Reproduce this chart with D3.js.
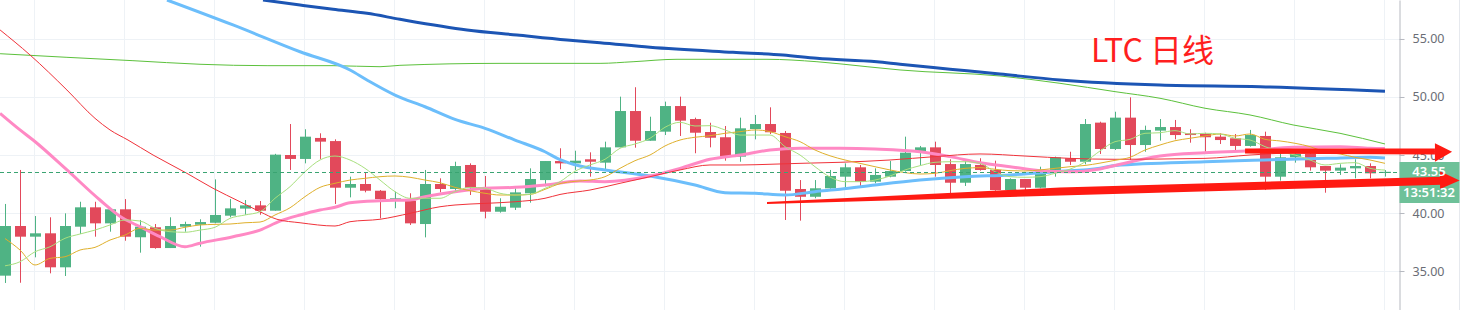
<!DOCTYPE html>
<html>
<head>
<meta charset="utf-8">
<script src="https://cdn.jsdelivr.net/npm/d3@7"></script>
<style>
  html, body { margin: 0; padding: 0; background: #fff; }
  svg { display: block; }
</style>
</head>
<body>
<div class="chart"></div>
<script>
var width = 1466;
var height = 310;
var axisX = 1399.5;

// daily candles, [open, high, low, close]
var ohlc = [
  [34.6, 40.78, 33.97, 38.88], [38.88, 43.71, 33.99, 37.96], [37.96, 39.74, 36.18, 38.25],
  [38.25, 39.63, 34.8, 35.32], [35.32, 39.97, 34.57, 38.88], [38.82, 40.97, 38.19, 40.49],
  [40.49, 40.97, 37.96, 39.11], [39.11, 40.32, 38.39, 40.32], [40.32, 41.2, 37.61, 37.96],
  [37.91, 39.4, 36.58, 38.82], [38.77, 39.05, 36.92, 36.98], [36.98, 39.63, 36.98, 38.88],
  [38.82, 39.25, 38.39, 39.05], [38.99, 39.46, 37.1, 39.22], [39.16, 42.9, 39.11, 39.83],
  [39.77, 41.2, 39.63, 40.4], [40.38, 41.12, 39.85, 40.66], [40.66, 41.03, 39.85, 40.2],
  [40.2, 45.1, 40.2, 45.03], [45.0, 47.67, 43.71, 44.66], [44.66, 47.22, 44.28, 46.58],
  [46.47, 46.87, 44.66, 46.15], [46.2, 46.35, 40.78, 42.18], [42.18, 43.13, 41.35, 42.5],
  [42.5, 43.53, 41.78, 41.92], [41.92, 41.98, 39.54, 41.2], [41.22, 41.84, 40.41, 41.27],
  [41.06, 41.7, 38.97, 39.11], [39.05, 43.71, 37.9, 42.5], [42.5, 42.99, 41.78, 42.07],
  [42.07, 44.42, 41.78, 44.05], [44.14, 44.28, 41.55, 42.18], [42.13, 43.19, 39.54, 40.11],
  [40.11, 41.27, 40.03, 40.54], [40.46, 42.13, 40.26, 41.78], [41.7, 43.85, 40.89, 42.93],
  [42.84, 44.48, 42.3, 44.48], [44.48, 45.58, 43.77, 44.28], [44.28, 45.37, 43.71, 44.51],
  [44.63, 45.23, 43.13, 44.42], [44.34, 46.15, 43.77, 45.66], [45.66, 50.03, 45.66, 48.79],
  [48.79, 50.84, 45.63, 46.23], [46.23, 48.3, 46.23, 47.07], [47.01, 49.6, 46.72, 49.22],
  [49.22, 50.03, 46.64, 47.96], [48.1, 48.22, 45.15, 46.92], [46.98, 47.78, 45.66, 46.49],
  [46.53, 47.5, 44.51, 44.86], [44.86, 48.22, 44.42, 47.3], [47.24, 48.45, 46.35, 47.67],
  [47.67, 49.11, 46.81, 46.96], [46.9, 47.07, 39.4, 41.92], [42.07, 42.84, 39.34, 41.4],
  [41.4, 42.84, 41.27, 42.13], [42.13, 43.71, 42.1, 43.19], [43.13, 44.28, 42.21, 43.94],
  [43.94, 44.14, 42.33, 42.7], [42.7, 43.85, 42.56, 43.28], [43.13, 44.48, 43.08, 43.62],
  [43.62, 46.58, 43.56, 45.2], [45.28, 45.78, 44.14, 45.66], [45.66, 46.15, 43.13, 44.14],
  [44.22, 44.63, 41.55, 42.61], [42.61, 44.48, 42.33, 44.22], [44.14, 44.72, 43.65, 43.71],
  [43.71, 44.51, 41.92, 41.98], [41.98, 42.99, 41.75, 42.93], [42.93, 42.93, 41.75, 42.18],
  [42.18, 43.99, 42.13, 43.56], [43.71, 44.86, 43.13, 44.8], [44.72, 45.28, 44.14, 44.42],
  [44.42, 48.1, 44.2, 47.67], [47.79, 47.87, 45.09, 45.52], [45.52, 48.73, 45.43, 48.22],
  [48.22, 49.97, 44.57, 45.86], [45.86, 47.53, 45.28, 47.16], [47.1, 48.1, 46.24, 47.41],
  [47.41, 48.02, 46.35, 46.72], [46.87, 47.22, 46.06, 46.72], [46.81, 46.92, 45.28, 46.53],
  [46.58, 46.87, 45.95, 46.29], [46.44, 46.81, 45.37, 45.78], [45.78, 47.16, 45.72, 46.72],
  [46.64, 47.01, 41.98, 43.13], [43.13, 45.28, 42.79, 44.8], [44.8, 45.2, 44.34, 45.09],
  [45.09, 45.2, 43.65, 43.94], [44.05, 44.05, 41.75, 43.65], [43.65, 44.2, 43.28, 43.91],
  [43.85, 44.63, 42.99, 44.05], [44.05, 44.28, 42.99, 43.42], [43.45, 43.7, 43.14, 43.55]
];

// short averages, one value per candle
var ma5 = [
  35.45, 35.8, 36.66, 37.09, 37.82, 38.19, 38.53, 38.97, 39.4, 39.31,
  38.68, 38.39, 38.34, 38.53, 38.77, 39.54, 39.83, 40.11, 41.27, 42.27,
  43.56, 44.57, 44.91, 44.57, 43.85, 42.84, 41.84, 41.27, 41.27, 41.27,
  41.84, 42.21, 42.13, 41.7, 41.55, 41.61, 42.13, 42.7, 43.6, 44.14,
  44.63, 45.58, 45.95, 46.44, 47.39, 47.82, 47.5, 47.53, 47.16, 46.72,
  46.72, 46.72, 45.72, 45.0, 43.99, 43.1, 42.7, 42.7, 42.84, 43.19,
  43.71, 44.08, 44.37, 44.42, 44.42, 44.28, 43.56, 43.13, 43.08, 43.13,
  43.42, 43.78, 44.4, 45.35, 46.15, 46.35, 46.87, 46.92, 47.1, 46.81,
  46.87, 46.81, 46.44, 46.29, 45.72, 45.28, 45.0, 44.57, 44.14, 44.28,
  44.34, 43.85, 43.7
];
var ma10 = [
  37.8, 36.81, 35.52, 36.09, 36.23, 36.81, 37.04, 37.67, 38.1, 38.68,
  38.53, 38.53, 38.77, 38.97, 39.02, 39.05, 39.16, 39.22, 39.83, 40.45,
  41.41, 42.21, 42.56, 42.84, 42.99, 43.13, 43.19, 43.08, 42.84, 42.61,
  42.21, 41.92, 41.7, 41.55, 41.55, 41.6, 42.04, 42.53, 42.73, 42.84,
  43.13, 43.85, 44.51, 45.0, 45.78, 46.29, 46.53, 46.66, 46.87, 47.01,
  47.16, 47.01, 46.58, 46.15, 45.43, 44.93, 44.57, 44.28, 43.99, 43.71,
  43.48, 43.36, 43.42, 43.65, 43.85, 43.91, 43.77, 43.65, 43.62, 43.71,
  43.85, 43.99, 44.1, 44.3, 44.54, 44.8, 45.43, 45.86, 46.23, 46.44,
  46.64, 46.81, 46.64, 46.81, 46.35, 46.21, 46.01, 45.72, 45.28, 45.09,
  44.8, 44.57, 44.28
];

// longer averages, read as [candle index, price]
var ma30 = [
  [-0.33, 55.78], [1.67, 53.62], [4.13, 50.6], [6, 48.16], [7, 47.16], [8.2, 46.29],
  [9.87, 45.0], [12.13, 43.42], [13.87, 42.13], [15.67, 40.97], [17, 40.11], [18.13, 39.46],
  [19.67, 39.16], [22, 38.88], [23, 39.25], [25, 39.46], [27, 39.97], [29, 40.54],
  [30, 40.69], [32, 40.83], [34, 40.97], [36, 41.27], [37, 41.6], [39, 41.98],
  [41, 42.56], [43, 43.13], [45, 43.71], [47, 44.14], [49, 44.14], [51, 44.2],
  [53, 44.28], [55.67, 44.37], [59, 44.57], [62, 44.86], [65, 45.09], [68, 44.91],
  [71, 44.71], [74, 44.63], [80, 44.71], [83, 45.0], [85.87, 45.2], [91, 45.37], [92, 45.3]
];
var ma60 = [
  [-0.33, 48.59], [1, 47.16], [1.87, 46.29], [4.13, 43.71], [6.33, 41.12], [7.87, 39.54],
  [9, 38.82], [10.33, 37.96], [12, 37.09], [13, 37.4], [15.2, 37.96], [17, 38.53],
  [18.33, 39.3], [19.67, 39.83], [21, 40.26], [22, 40.49], [23, 40.89], [25, 41.06],
  [27, 41.12], [28, 41.41], [30, 41.84], [32, 42.13], [34, 42.21], [36, 42.41],
  [38.33, 42.76], [40, 42.7], [43, 43.19], [45, 43.85], [47, 44.63], [49, 45.0],
  [51, 45.43], [53, 45.58], [55.67, 45.58], [58, 45.52], [61, 45.28], [63, 44.86],
  [65, 44.34], [67, 43.99], [69, 43.65], [71, 43.55], [73, 43.8], [74, 44.1],
  [77, 44.91], [80, 45.2], [83, 45.37], [85.87, 45.66], [89, 45.72], [91, 45.58], [92, 45.55]
];
var ma90 = [
  [10.8, 58.36], [15.2, 56.21], [19.67, 53.9], [23, 52.33], [24.13, 51.47], [26, 50.17],
  [28, 49.16], [30, 48.07], [32, 47.3], [34, 46.29], [36, 45.28], [37, 44.6],
  [38.33, 44.05], [40, 43.71], [43, 43.19], [46, 42.41], [48, 41.75], [50, 41.7],
  [52, 41.55], [54, 41.84], [55.67, 42.04], [58, 42.41], [61, 42.84], [64, 43.13],
  [67, 43.28], [70, 43.56], [73, 43.85], [74, 44.1], [80, 44.42], [84, 44.57],
  [88.13, 44.71], [91, 44.8], [92, 44.75]
];
var ma120 = [
  [-0.33, 53.73], [4.13, 53.42], [8.53, 53.13], [13, 52.82], [17.47, 52.7], [21.87, 52.7],
  [25, 52.61], [26.33, 52.73], [33, 52.9], [39.67, 52.9], [41.87, 53.04], [44.8, 53.25],
  [50.8, 53.25], [54.13, 53.04], [57.47, 52.61], [59.67, 52.33], [66.33, 51.81], [70.33, 51.18],
  [74, 50.46], [77, 49.89], [80, 49.03], [83, 48.45], [85.87, 47.59], [89, 46.87], [92, 45.95]
];
var ma200 = [
  [17.2, 58.36], [19.67, 57.93], [21.87, 57.56], [24.13, 57.21], [26.33, 56.7], [30.8, 55.78],
  [34.13, 55.34], [37.47, 54.91], [39.67, 54.68], [43, 54.28], [48.53, 53.85], [51.87, 53.62],
  [54.13, 53.33], [58.13, 53.04], [59.67, 52.82], [63, 52.4], [66.33, 51.98], [70.33, 51.47],
  [77, 51.03], [83.67, 50.89], [92, 50.5]
];

var priceTicks = [35, 40, 45, 50, 55];
var lastPrice = 43.55;
var countdown = "13:51:32";
var title = "LTC 日线";

// hand-drawn arrows, [candle index, price]
var upperArrow = [[82.67, 45.34], [95.33, 45.3]];
var upperHead = [[95.33, 46.01], [96.47, 45.28], [95.33, 44.42]];
var lowerArrow = [[50.8, 40.86], [70.33, 41.85], [95.8, 42.78]];
var lowerHead = [[95.67, 43.6], [96.97, 42.8], [95.67, 42.07]];

var upColor = "#4fb384";
var downColor = "#e2495b";

var svg = d3
  .select(".chart")
  .append("svg")
  .attr("width", width)
  .attr("height", height);

var x = d3.scaleLinear().domain([0, ohlc.length - 1]).range([5, 1385]);
var y = d3.scaleLinear().domain([31.64, 58.36]).range([height, 0]);

// grid
var gridX = d3.range(2, 100, 6).filter(d => x(d) < axisX);
svg
  .append("g")
  .selectAll("line")
  .data(gridX)
  .enter()
  .append("line")
  .attr("x1", d => Math.round(x(d)) - 0.5)
  .attr("x2", d => Math.round(x(d)) - 0.5)
  .attr("y1", 0)
  .attr("y2", height)
  .attr("stroke", "#eef2f6");

svg
  .append("g")
  .selectAll("line")
  .data(priceTicks)
  .enter()
  .append("line")
  .attr("x1", 0)
  .attr("x2", axisX)
  .attr("y1", d => Math.round(y(d)) + 0.5)
  .attr("y2", d => Math.round(y(d)) + 0.5)
  .attr("stroke", "#eef2f6");

svg
  .append("line")
  .attr("x1", 1459.5)
  .attr("x2", 1459.5)
  .attr("y1", 0)
  .attr("y2", height)
  .attr("stroke", "#e6e9ee");

// candles
var candles = svg
  .append("g")
  .selectAll("g")
  .data(ohlc)
  .enter()
  .append("g");

candles
  .append("line")
  .attr("x1", (d, i) => Math.round(x(i)) + 0.5)
  .attr("x2", (d, i) => Math.round(x(i)) + 0.5)
  .attr("y1", d => y(d[1]))
  .attr("y2", d => y(d[2]))
  .attr("stroke", d => (d[3] >= d[0] ? upColor : downColor))
  .attr("stroke-width", 1);

candles
  .append("rect")
  .attr("x", (d, i) => Math.round(x(i)) - 5)
  .attr("width", 11)
  .attr("y", d => y(Math.max(d[0], d[3])))
  .attr("height", d => Math.max(1, Math.abs(y(d[0]) - y(d[3]))))
  .attr("fill", d => (d[3] >= d[0] ? upColor : downColor));

// moving averages
var line = d3
  .line()
  .x(d => x(d[0]))
  .y(d => y(d[1]))
  .curve(d3.curveMonotoneX);

function drawLine(points, color, w) {
  svg
    .append("path")
    .datum(points)
    .attr("d", line)
    .attr("fill", "none")
    .attr("stroke", color)
    .attr("stroke-width", w)
    .attr("stroke-linejoin", "round");
}

drawLine(ma120, "#5cc13c", 1);
drawLine(ma200, "#1c55b4", 3);
drawLine(ma90, "#6cbefb", 3);
drawLine(ma60, "#ff89c4", 3);
drawLine(ma30, "#f0323a", 1);
drawLine(ma10.map((v, i) => [i, v]), "#dfb02c", 1);
drawLine(ma5.map((v, i) => [i, v]), "#a8e07e", 1);

// last price line
svg
  .append("line")
  .attr("x1", 0)
  .attr("x2", axisX)
  .attr("y1", Math.round(y(lastPrice)) + 0.5)
  .attr("y2", Math.round(y(lastPrice)) + 0.5)
  .attr("stroke", "#3aa472")
  .attr("stroke-dasharray", "4,3");

// price axis
var yAxis = d3
  .axisRight(y)
  .tickValues(priceTicks)
  .tickFormat(d3.format(".2f"))
  .tickSize(5)
  .tickSizeOuter(0)
  .tickPadding(8);

var axisG = svg
  .append("g")
  .attr("transform", `translate(${axisX}, 0)`)
  .call(yAxis);

axisG.select(".domain").attr("stroke", "#b6b9c0");
axisG.selectAll(".tick line").attr("stroke", "#b6b9c0");
axisG
  .selectAll(".tick text")
  .attr("fill", "#6a6d75")
  .style("font-family", "'Noto Sans', sans-serif")
  .style("font-size", "12.5px");

// last price tag
var tag = svg.append("g");
tag
  .append("rect")
  .attr("x", axisX)
  .attr("y", 162)
  .attr("width", 1459.5 - axisX)
  .attr("height", 41)
  .attr("fill", "#6ec199");

// annotation arrows
function band(points, w0, w1) {
  var pts = points.map(p => [x(p[0]), y(p[1])]);
  var n = pts.length;
  var top = [];
  var bottom = [];
  pts.forEach((p, k) => {
    var w = (w0 + (w1 - w0) * Math.min(1, k / Math.max(1, n - 2))) / 2;
    top.push([p[0], p[1] - w]);
    bottom.unshift([p[0], p[1] + w]);
  });
  return top.concat(bottom);
}

var polyLine = d3.line().curve(d3.curveLinearClosed);

svg
  .append("path")
  .attr("d", polyLine(band(upperArrow, 5, 6)))
  .attr("fill", "#ff1a12");
svg
  .append("path")
  .attr("d", polyLine(upperHead.map(p => [x(p[0]), y(p[1])])))
  .attr("fill", "#ff1a12");
svg
  .append("path")
  .attr("d", polyLine(band(lowerArrow, 2, 8)))
  .attr("fill", "#ff1a12");
svg
  .append("path")
  .attr("d", polyLine(lowerHead.map(p => [x(p[0]), y(p[1])])))
  .attr("fill", "#ff1a12");

// tag text stays readable above the arrows
tag
  .append("text")
  .attr("x", 1429)
  .attr("y", y(lastPrice) + 4)
  .attr("text-anchor", "middle")
  .attr("fill", "#fff")
  .style("font-family", "'Noto Sans', sans-serif")
  .style("font-size", "13px")
  .style("font-weight", 600)
  .text(d3.format(".2f")(lastPrice));
tag
  .append("text")
  .attr("x", 1429)
  .attr("y", y(lastPrice) + 25)
  .attr("text-anchor", "middle")
  .attr("fill", "#fff")
  .style("font-family", "'Noto Sans', sans-serif")
  .style("font-size", "13px")
  .style("font-weight", 600)
  .text(countdown);
svg.node().appendChild(tag.selectAll("text").nodes()[0]);
svg.node().appendChild(tag.selectAll("text").nodes()[0]);

// title
svg
  .append("text")
  .attr("x", 1091)
  .attr("y", 62)
  .attr("fill", "#ff1f1f")
  .style("font-family", "'Noto Sans CJK SC', sans-serif")
  .style("font-size", "32px")
  .text(title);
</script>
</body>
</html>
